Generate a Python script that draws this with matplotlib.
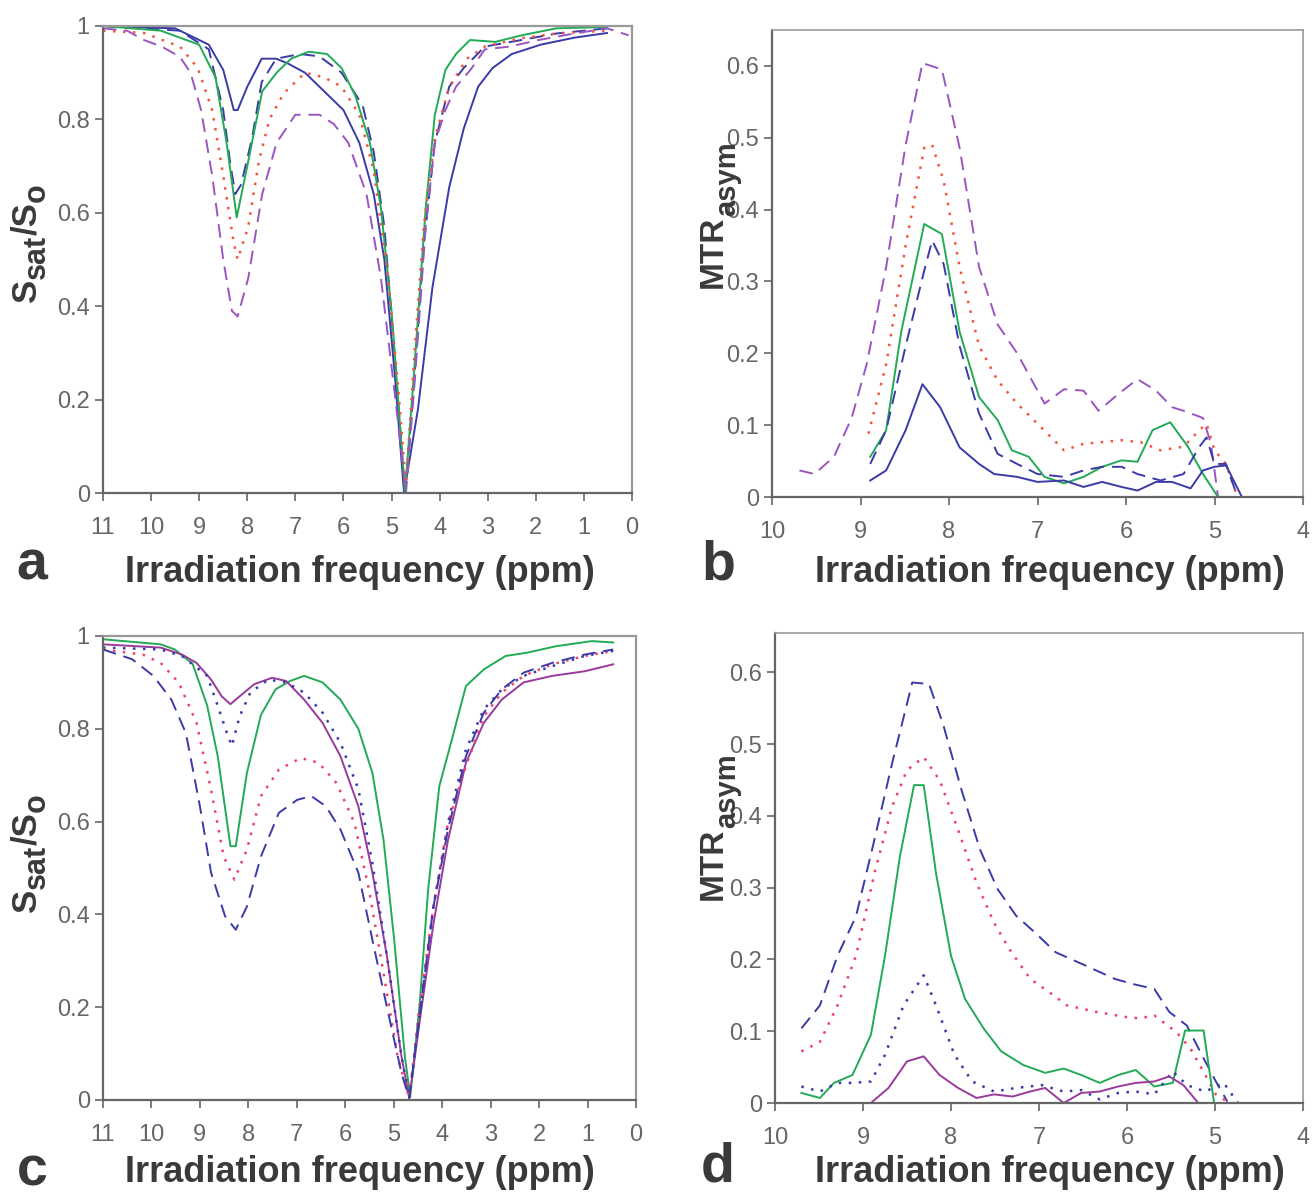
import matplotlib
matplotlib.use("Agg")
import matplotlib.pyplot as plt

plt.rcParams['font.family'] = ['Liberation Sans', 'DejaVu Sans']

# ---- panel a : Z-spectra ----
a_bs_x = [11, 9.5, 8.8, 8.5, 8.28, 8.2, 8.0, 7.7, 7.4, 7.16, 6.8, 6.4, 6.0, 5.67, 5.37, 5.15, 4.93, 4.74,
          4.45, 4.15, 3.8, 3.5, 3.2, 2.9, 2.5, 1.9, 1.2, 0.52]
a_bs_y = [1.0, 0.995, 0.96, 0.906, 0.82, 0.82, 0.87, 0.93, 0.93, 0.92, 0.90, 0.86, 0.82, 0.75, 0.64, 0.50, 0.25, 0.0,
          0.18, 0.44, 0.655, 0.78, 0.87, 0.91, 0.94, 0.96, 0.975, 0.985]
a_bd_x = [11, 9.4, 8.8, 8.5, 8.36, 8.25, 8.13, 7.9, 7.7, 7.4, 6.9, 6.5, 6.04, 5.6, 5.37, 5.15, 4.93, 4.72,
          4.55, 4.33, 4.1, 3.8, 3.5, 3.06, 2.3, 1.57, 0.52]
a_bd_y = [1.0, 0.99, 0.95, 0.82, 0.71, 0.64, 0.66, 0.76, 0.88, 0.93, 0.94, 0.935, 0.90, 0.83, 0.73, 0.57, 0.29, 0.0,
          0.21, 0.53, 0.75, 0.87, 0.91, 0.956, 0.97, 0.984, 0.995]
a_g_x = [11, 9.8, 9.0, 8.66, 8.43, 8.22, 7.98, 7.69, 7.39, 7.09, 6.72, 6.34, 6.04, 5.75, 5.45, 5.22, 5.0, 4.72,
         4.51, 4.29, 4.1, 3.88, 3.66, 3.37, 2.84, 2.3, 1.57, 0.52]
a_g_y = [1.0, 0.99, 0.96, 0.89, 0.75, 0.59, 0.71, 0.86, 0.90, 0.93, 0.945, 0.94, 0.91, 0.85, 0.75, 0.61, 0.39, 0.0,
         0.29, 0.61, 0.81, 0.906, 0.94, 0.97, 0.966, 0.98, 0.995, 0.998]
a_r_x = [11, 10.15, 9.4, 9.03, 8.73, 8.5, 8.28, 8.2, 7.98, 7.76, 7.54, 7.24, 6.8, 6.4, 6.04, 5.67, 5.37, 5.07, 4.85, 4.7,
         4.51, 4.33, 4.1, 3.8, 3.43, 3.06, 2.3, 1.57, 0.52]
a_r_y = [0.99, 0.985, 0.956, 0.91, 0.82, 0.68, 0.535, 0.50, 0.57, 0.71, 0.80, 0.856, 0.90, 0.89, 0.87, 0.81, 0.69, 0.46, 0.21, 0.015,
         0.32, 0.57, 0.76, 0.87, 0.93, 0.956, 0.974, 0.984, 0.99]
a_p_x = [11, 10.5, 10.15, 9.78, 9.4, 9.18, 8.96, 8.73, 8.5, 8.32, 8.2, 7.98, 7.69, 7.39, 7.0, 6.5, 6.2, 5.9, 5.52, 5.22, 4.93, 4.7,
         4.51, 4.29, 4.1, 3.88, 3.66, 3.36, 3.06, 2.54, 1.94, 1.2, 0.52, 0.07]
a_p_y = [0.995, 0.99, 0.97, 0.956, 0.934, 0.90, 0.82, 0.68, 0.50, 0.39, 0.378, 0.46, 0.64, 0.75, 0.81, 0.81, 0.79, 0.75, 0.64, 0.46, 0.21, 0.0,
         0.25, 0.57, 0.75, 0.82, 0.87, 0.906, 0.95, 0.956, 0.97, 0.984, 0.995, 0.98]

# ---- panel b : MTRasym ----
b_p_x = [9.69, 9.52, 9.3, 9.1, 8.93, 8.71, 8.49, 8.3, 8.08, 7.88, 7.66, 7.45, 7.23, 6.92, 6.7, 6.48, 6.31, 6.09, 5.87,
         5.66, 5.48, 5.35, 5.13, 5.04, 4.96]
b_p_y = [0.037, 0.032, 0.056, 0.11, 0.185, 0.32, 0.49, 0.604, 0.595, 0.486, 0.32, 0.24, 0.20, 0.13, 0.15, 0.148, 0.12, 0.143, 0.164,
         0.148, 0.125, 0.12, 0.11, 0.074, 0.0]
b_r_x = [8.91, 8.71, 8.49, 8.28, 8.19, 8.06, 7.88, 7.66, 7.45, 7.23, 7.0, 6.7, 6.48, 6.05, 5.83, 5.61, 5.35, 5.17, 5.09, 5.0, 4.87, 4.74]
b_r_y = [0.088, 0.185, 0.35, 0.486, 0.49, 0.44, 0.32, 0.21, 0.162, 0.13, 0.102, 0.065, 0.074, 0.079, 0.076, 0.065, 0.07, 0.093, 0.102, 0.065, 0.046, 0.0]
b_g_x = [8.89, 8.71, 8.54, 8.28, 8.08, 7.88, 7.66, 7.45, 7.29, 7.1, 6.92, 6.7, 6.48, 6.27, 6.05, 5.87, 5.7, 5.5, 5.3, 5.13, 4.96, 4.74]
b_g_y = [0.056, 0.093, 0.23, 0.38, 0.366, 0.23, 0.139, 0.107, 0.065, 0.056, 0.028, 0.019, 0.028, 0.042, 0.051, 0.049, 0.093, 0.104, 0.07, 0.032, 0.0, 0.0]
b_bd_x = [8.89, 8.71, 8.49, 8.28, 8.19, 8.06, 7.88, 7.66, 7.45, 7.23, 7.0, 6.7, 6.48, 6.27, 6.05, 5.87, 5.61, 5.35, 5.17, 5.09, 5.0, 4.87, 4.74]
b_bd_y = [0.046, 0.093, 0.21, 0.315, 0.357, 0.324, 0.21, 0.116, 0.06, 0.046, 0.032, 0.028, 0.037, 0.042, 0.042, 0.032, 0.023, 0.032, 0.07, 0.083, 0.046, 0.046, 0.0]
b_bs_x = [8.89, 8.71, 8.49, 8.3, 8.1, 7.88, 7.66, 7.49, 7.23, 7.0, 6.7, 6.48, 6.27, 6.05, 5.87, 5.66, 5.48, 5.27, 5.13, 5.0, 4.87, 4.69]
b_bs_y = [0.023, 0.037, 0.093, 0.157, 0.125, 0.069, 0.046, 0.032, 0.028, 0.021, 0.023, 0.014, 0.021, 0.014, 0.009, 0.021, 0.021, 0.012, 0.037, 0.042, 0.044, 0.0]

# ---- panel c : Z-spectra ----
c_g_x = [11, 9.81, 9.52, 9.15, 8.85, 8.63, 8.37, 8.26, 8.03, 7.74, 7.44, 7.14, 6.85, 6.47, 6.1, 5.73, 5.44, 5.21, 4.99, 4.77, 4.66,
         4.47, 4.29, 4.06, 3.8, 3.51, 3.14, 2.69, 2.25, 1.65, 0.91, 0.47]
c_g_y = [0.993, 0.982, 0.971, 0.94, 0.85, 0.74, 0.547, 0.547, 0.705, 0.83, 0.885, 0.903, 0.914, 0.90, 0.863, 0.80, 0.705, 0.56, 0.345, 0.094, 0.007,
         0.20, 0.453, 0.676, 0.777, 0.892, 0.928, 0.957, 0.964, 0.978, 0.989, 0.986]
c_p_x = [11, 9.81, 9.37, 9.07, 8.77, 8.55, 8.37, 8.18, 7.88, 7.51, 7.22, 6.85, 6.47, 6.1, 5.73, 5.44, 5.14, 4.84, 4.68,
         4.47, 4.18, 3.88, 3.51, 3.14, 2.77, 2.32, 1.73, 1.06, 0.47]
c_p_y = [0.982, 0.975, 0.96, 0.942, 0.906, 0.87, 0.853, 0.87, 0.896, 0.91, 0.903, 0.863, 0.813, 0.741, 0.633, 0.49, 0.31, 0.094, 0.004,
         0.165, 0.38, 0.56, 0.727, 0.813, 0.863, 0.90, 0.914, 0.924, 0.939]
c_bdot_x = [11, 9.81, 9.37, 8.85, 8.63, 8.44, 8.34, 8.18, 7.96, 7.59, 7.22, 6.85, 6.47, 6.1, 5.73, 5.44, 5.14, 4.84, 4.68,
            4.47, 4.18, 3.88, 3.51, 3.14, 2.77, 2.32, 1.73, 1.06, 0.47]
c_bdot_y = [0.975, 0.971, 0.957, 0.914, 0.849, 0.79, 0.763, 0.827, 0.878, 0.906, 0.90, 0.878, 0.835, 0.77, 0.67, 0.51, 0.31, 0.094, 0.004,
            0.18, 0.417, 0.597, 0.755, 0.842, 0.885, 0.914, 0.935, 0.957, 0.968]
c_r_x = [11, 10.18, 9.81, 9.44, 9.07, 8.77, 8.51, 8.29, 8.03, 7.74, 7.37, 6.92, 6.55, 6.18, 5.81, 5.51, 5.21, 4.92, 4.68,
         4.47, 4.18, 3.88, 3.51, 3.14, 2.77, 2.32, 1.73, 1.06, 0.47]
c_r_y = [0.971, 0.96, 0.942, 0.90, 0.813, 0.669, 0.525, 0.475, 0.54, 0.655, 0.712, 0.737, 0.727, 0.683, 0.597, 0.453, 0.273, 0.094, 0.004,
         0.20, 0.417, 0.597, 0.72, 0.827, 0.878, 0.914, 0.939, 0.957, 0.968]
c_bd_x = [11, 10.4, 9.96, 9.59, 9.29, 9.0, 8.77, 8.48, 8.26, 8.03, 7.74, 7.37, 6.99, 6.7, 6.4, 6.1, 5.73, 5.44, 5.14, 4.84, 4.68,
          4.47, 4.18, 3.88, 3.51, 3.14, 2.77, 2.32, 1.73, 1.06, 0.47]
c_bd_y = [0.971, 0.95, 0.914, 0.863, 0.791, 0.633, 0.49, 0.396, 0.367, 0.417, 0.525, 0.619, 0.647, 0.655, 0.633, 0.583, 0.49, 0.345, 0.20, 0.058, 0.004,
          0.18, 0.417, 0.583, 0.741, 0.835, 0.885, 0.921, 0.942, 0.96, 0.971]

# ---- panel d : MTRasym ----
d_bd_x = [9.7, 9.49, 9.29, 9.08, 8.87, 8.67, 8.44, 8.25, 8.09, 7.88, 7.67, 7.47, 7.26, 7.05, 6.81, 6.48, 6.14, 5.94, 5.69,
          5.52, 5.32, 5.15, 4.99, 4.86]
d_bd_y = [0.104, 0.136, 0.205, 0.26, 0.367, 0.473, 0.586, 0.584, 0.528, 0.436, 0.353, 0.298, 0.261, 0.238, 0.21, 0.192, 0.173, 0.166, 0.159,
          0.127, 0.108, 0.067, 0.03, 0.002]
d_r_x = [9.7, 9.49, 9.29, 9.08, 8.87, 8.67, 8.5, 8.31, 8.13, 7.92, 7.71, 7.51, 7.34, 7.1, 6.89, 6.68, 6.35, 6.02, 5.86, 5.69,
         5.44, 5.28, 5.11, 4.99, 4.86]
d_r_y = [0.072, 0.085, 0.136, 0.205, 0.32, 0.413, 0.464, 0.482, 0.45, 0.381, 0.307, 0.251, 0.215, 0.173, 0.155, 0.136, 0.127, 0.12, 0.118, 0.122,
         0.099, 0.076, 0.039, 0.012, 0.002]
d_g_x = [9.7, 9.49, 9.33, 9.12, 8.91, 8.75, 8.58, 8.42, 8.31, 8.17, 8.0, 7.84, 7.63, 7.43, 7.18, 6.93, 6.72, 6.52, 6.31, 6.1,
         5.9, 5.69, 5.48, 5.34, 5.13, 5.01]
d_g_y = [0.014, 0.007, 0.028, 0.039, 0.095, 0.205, 0.344, 0.443, 0.443, 0.32, 0.205, 0.145, 0.104, 0.072, 0.053, 0.042, 0.048, 0.039, 0.028, 0.039,
         0.046, 0.023, 0.028, 0.101, 0.101, 0.0]
d_bdot_x = [9.7, 9.49, 9.29, 9.12, 8.91, 8.75, 8.54, 8.31, 8.17, 7.96, 7.76, 7.51, 7.26, 6.97, 6.72, 6.52, 6.31, 6.1, 5.9, 5.69,
            5.48, 5.32, 5.11, 4.9, 4.74]
d_bdot_y = [0.023, 0.016, 0.028, 0.028, 0.03, 0.067, 0.136, 0.178, 0.136, 0.067, 0.03, 0.016, 0.021, 0.025, 0.016, 0.018, 0.005, 0.014, 0.016, 0.012,
            0.044, 0.025, 0.016, 0.028, 0.0]
d_p_x = [8.91, 8.71, 8.5, 8.31, 8.13, 7.92, 7.71, 7.51, 7.3, 7.1, 6.93, 6.72, 6.52, 6.31, 6.1, 5.9, 5.69, 5.52, 5.36, 5.19]
d_p_y = [0.0, 0.021, 0.058, 0.065, 0.039, 0.021, 0.007, 0.012, 0.009, 0.016, 0.021, 0.0, 0.014, 0.016, 0.023, 0.028, 0.03, 0.037, 0.025, 0.0]

z_ticks = [11, 10, 9, 8, 7, 6, 5, 4, 3, 2, 1, 0]
z_yticks = [0, 0.2, 0.4, 0.6, 0.8, 1]
z_yticklabels = ['0', '0.2', '0.4', '0.6', '0.8', '1']
m_ticks = [10, 9, 8, 7, 6, 5, 4]
m_yticks = [0, 0.1, 0.2, 0.3, 0.4, 0.5, 0.6]
m_yticklabels = ['0', '0.1', '0.2', '0.3', '0.4', '0.5', '0.6']

navy = '#3a3aa8'
green = '#22aa55'
red = '#f2553f'
pink = '#ee3f6f'
purple = '#9a55c0'
magenta = '#993a9c'
dash = (0, (7, 4))
dot = (0, (1, 3))
lw = 1.4

W, H = 1313, 1201
fig = plt.figure(figsize=(W / 100, H / 100), dpi=100)
tcol = '#3a3a3a'


def px_axes(l, t, r, b):
    return fig.add_axes([l / W, 1 - b / H, (r - l) / W, (b - t) / H])


def style(ax, grey_box):
    ax.tick_params(direction='out', length=6, width=1.2, colors='#666666', labelsize=17, labelcolor='#666666')
    ax.tick_params(axis='x', pad=11)
    for s in ['left', 'bottom']:
        ax.spines[s].set_color('#666666')
        ax.spines[s].set_linewidth(1.6)
    for s in ['top', 'right']:
        ax.spines[s].set_color('#999999')
        ax.spines[s].set_linewidth(1.6 if grey_box else 1.2)
    ax.tick_params(top=False, right=False)


def stack_label(x, y, parts):
    # rotated label built from pieces, x = baseline column, y = bottom end (pixels from top)
    r = fig.canvas.get_renderer()
    yy = H - y
    for s, size, drop in parts:
        t = fig.text((x + drop) / W, yy / H, s, rotation=90, rotation_mode='anchor',
                     ha='left', va='baseline', fontsize=size, fontweight='bold', color=tcol)
        yy += t.get_window_extent(r).height


axa = px_axes(103, 26, 632, 493)
axa.plot(a_bs_x, a_bs_y, color=navy, lw=lw)
axa.plot(a_bd_x, a_bd_y, color=navy, lw=lw, linestyle=dash)
axa.plot(a_g_x, a_g_y, color=green, lw=lw)
axa.plot(a_r_x, a_r_y, color=red, lw=1.8, linestyle=dot)
axa.plot(a_p_x, a_p_y, color=purple, lw=lw, linestyle=dash)
axa.set_xlim(11, 0)
axa.set_ylim(0, 1)
axa.set_xticks(z_ticks)
axa.set_yticks(z_yticks)
axa.set_yticklabels(z_yticklabels)
style(axa, True)

axb = px_axes(772, 30, 1303, 497)
axb.plot(b_p_x, b_p_y, color=purple, lw=lw, linestyle=dash)
axb.plot(b_r_x, b_r_y, color=red, lw=1.8, linestyle=dot)
axb.plot(b_g_x, b_g_y, color=green, lw=lw)
axb.plot(b_bd_x, b_bd_y, color=navy, lw=lw, linestyle=dash)
axb.plot(b_bs_x, b_bs_y, color=navy, lw=lw)
axb.set_xlim(10, 4)
axb.set_ylim(0, 0.65)
axb.set_xticks(m_ticks)
axb.set_yticks(m_yticks)
axb.set_yticklabels(m_yticklabels)
style(axb, False)

axc = px_axes(103, 636, 636, 1100)
axc.plot(c_g_x, c_g_y, color=green, lw=lw)
axc.plot(c_p_x, c_p_y, color=magenta, lw=lw)
axc.plot(c_bdot_x, c_bdot_y, color=navy, lw=1.8, linestyle=dot)
axc.plot(c_r_x, c_r_y, color=pink, lw=1.8, linestyle=dot)
axc.plot(c_bd_x, c_bd_y, color=navy, lw=lw, linestyle=dash)
axc.set_xlim(11, 0)
axc.set_ylim(0, 1)
axc.set_xticks(z_ticks)
axc.set_yticks(z_yticks)
axc.set_yticklabels(z_yticklabels)
style(axc, True)

axd = px_axes(775, 633, 1303, 1103)
axd.plot(d_bd_x, d_bd_y, color=navy, lw=lw, linestyle=dash)
axd.plot(d_r_x, d_r_y, color=pink, lw=1.8, linestyle=dot)
axd.plot(d_g_x, d_g_y, color=green, lw=lw)
axd.plot(d_bdot_x, d_bdot_y, color=navy, lw=1.8, linestyle=dot)
axd.plot(d_p_x, d_p_y, color=magenta, lw=lw)
axd.set_xlim(10, 4)
axd.set_ylim(0, 0.655)
axd.set_xticks(m_ticks)
axd.set_yticks(m_yticks)
axd.set_yticklabels(m_yticklabels)
style(axd, False)

# labels
xlab = 'Irradiation frequency (ppm)'
for (x, y) in [(360, 572), (1050, 572), (360, 1172), (1050, 1172)]:
    fig.text(x / W, 1 - y / H, xlab, ha='center', va='center', fontsize=26, fontweight='bold', color=tcol)
for (x, y, s) in [(32, 566, 'a'), (718, 566, 'b'), (32, 1172, 'c'), (718, 1168, 'd')]:
    fig.text(x / W, 1 - y / H, s, ha='center', va='center', fontsize=40, fontweight='bold', color=tcol)

s_parts = [('S', 25, 0), ('sat', 22, 9), ('/S', 25, 0), ('o', 22, 9)]
m_parts = [('MTR', 24, 0), ('asym', 21, 13)]
stack_label(36, 302, s_parts)
stack_label(36, 912, s_parts)
stack_label(722, 288, m_parts)
stack_label(722, 900, m_parts)

fig.savefig('out.png', dpi=100)
